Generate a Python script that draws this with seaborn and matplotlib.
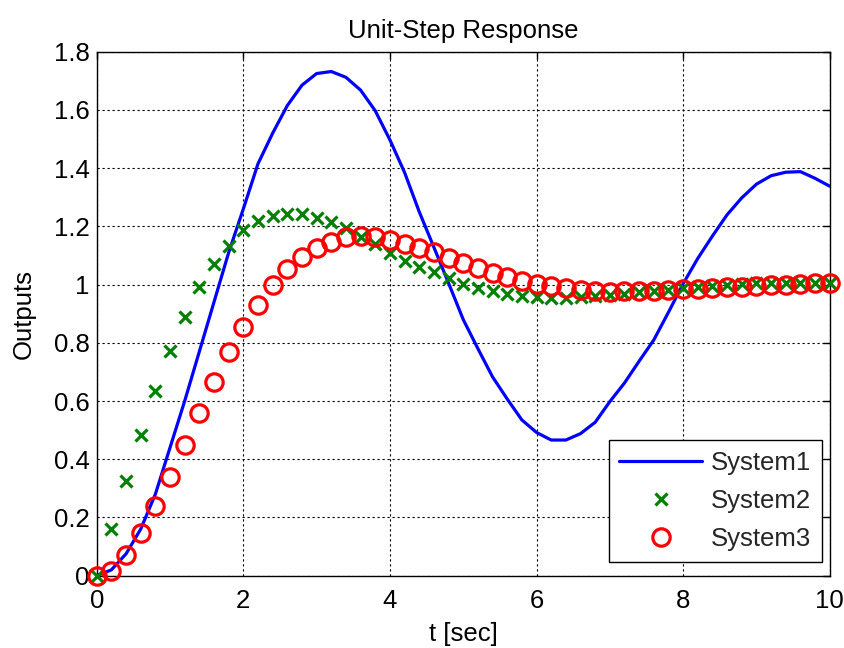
import matplotlib
matplotlib.use("Agg")
import matplotlib.pyplot as plt
import seaborn as sns
import pandas as pd
from matplotlib.lines import Line2D

# ---- data ----
t = [0.0, 0.2, 0.4, 0.6, 0.8, 1.0, 1.2, 1.4, 1.6, 1.8,
     2.0, 2.2, 2.4, 2.6, 2.8, 3.0, 3.2, 3.4, 3.6, 3.8,
     4.0, 4.2, 4.4, 4.6, 4.8, 5.0, 5.2, 5.4, 5.6, 5.8,
     6.0, 6.2, 6.4, 6.6, 6.8, 7.0, 7.2, 7.4, 7.6, 7.8,
     8.0, 8.2, 8.4, 8.6, 8.8, 9.0, 9.2, 9.4, 9.6, 9.8, 10.0]

system1 = [0.0, 0.02, 0.075, 0.16, 0.28, 0.44, 0.60, 0.77, 0.94, 1.11,
           1.26, 1.415, 1.52, 1.615, 1.685, 1.725, 1.732, 1.712, 1.668, 1.597,
           1.497, 1.385, 1.25, 1.128, 1.005, 0.88, 0.78, 0.683, 0.607, 0.535,
           0.492, 0.466, 0.466, 0.488, 0.527, 0.598, 0.662, 0.737, 0.81, 0.905,
           1.003, 1.09, 1.167, 1.24, 1.298, 1.345, 1.374, 1.386, 1.388, 1.365, 1.338]

system2 = [0.0, 0.16, 0.325, 0.482, 0.634, 0.772, 0.887, 0.99, 1.07, 1.133,
           1.188, 1.217, 1.236, 1.244, 1.243, 1.23, 1.214, 1.195, 1.165, 1.14,
           1.108, 1.082, 1.062, 1.042, 1.022, 1.002, 0.988, 0.978, 0.967, 0.962,
           0.957, 0.954, 0.954, 0.957, 0.961, 0.965, 0.969, 0.973, 0.977, 0.982,
           0.988, 0.992, 0.996, 0.999, 1.002, 1.004, 1.005, 1.006, 1.006, 1.005, 1.005]

system3 = [0.0, 0.017, 0.072, 0.146, 0.238, 0.34, 0.449, 0.56, 0.665, 0.767,
           0.855, 0.929, 0.997, 1.052, 1.094, 1.126, 1.148, 1.162, 1.167, 1.164,
           1.153, 1.138, 1.127, 1.111, 1.09, 1.073, 1.056, 1.041, 1.025, 1.014,
           1.003, 0.994, 0.987, 0.981, 0.977, 0.976, 0.977, 0.977, 0.978, 0.98,
           0.985, 0.985, 0.987, 0.991, 0.993, 0.996, 0.997, 0.998, 1.002, 1.004, 1.004]

series_names = ["System1", "System2", "System3"]
x_ticks = [0, 2, 4, 6, 8, 10]
x_tick_labels = ["0", "2", "4", "6", "8", "10"]
y_ticks = [0, 0.2, 0.4, 0.6, 0.8, 1.0, 1.2, 1.4, 1.6, 1.8]
y_tick_labels = ["0", "0.2", "0.4", "0.6", "0.8", "1", "1.2", "1.4", "1.6", "1.8"]

title_text = "Unit-Step Response"
x_label = "t [sec]"
y_label = "Outputs"

# ---- style ----
sns.set_theme(style="white")
plt.rcParams["font.family"] = ["Liberation Sans", "DejaVu Sans"]
FS = 18.5

df = pd.DataFrame({"t": t, "System1": system1, "System2": system2, "System3": system3})

fig, ax = plt.subplots(figsize=(8.44, 6.48), dpi=100)
fig.subplots_adjust(left=0.1146, right=0.9831, bottom=0.1116, top=0.9202)

sns.lineplot(data=df, x="t", y="System1", ax=ax, color="#0000FF", linewidth=2.3,
             estimator=None, sort=False, zorder=3)
sns.lineplot(data=df, x="t", y="System2", ax=ax, color="#008000", linestyle="",
             marker="x", markersize=8.5, markeredgewidth=2.3,
             markeredgecolor="#008000", estimator=None, sort=False,
             zorder=4, clip_on=False)
sns.lineplot(data=df, x="t", y="System3", ax=ax, color="#FF0000", linestyle="",
             marker="o", markersize=12.5, markeredgewidth=2.3,
             markeredgecolor="#FF0000", markerfacecolor="none",
             estimator=None, sort=False, zorder=5, clip_on=False)

ax.set_xlim(0, 10)
ax.set_ylim(0, 1.8)
ax.set_xticks(x_ticks)
ax.set_xticklabels(x_tick_labels)
ax.set_yticks(y_ticks)
ax.set_yticklabels(y_tick_labels)

ax.tick_params(axis="both", direction="in", top=True, right=True, length=5,
               width=1.0, color="black", labelcolor="black", labelsize=FS)
ax.tick_params(axis="x", pad=9.5)
ax.tick_params(axis="y", pad=5)

ax.set_axisbelow(True)
ax.grid(True, color="black", linestyle=(0, (2, 2.5)), linewidth=0.8)

for s in ax.spines.values():
    s.set_visible(True)
    s.set_color("black")
    s.set_linewidth(1.0)

ax.set_title(title_text, fontsize=FS, color="black", pad=10)
ax.set_xlabel(x_label, fontsize=FS, color="black", labelpad=6.5)
ax.set_ylabel(y_label, fontsize=FS, color="black", labelpad=13)

handles = [
    Line2D([], [], color="#0000FF", linewidth=2.3),
    Line2D([], [], color="#008000", linestyle="", marker="x", markersize=8.5,
           markeredgewidth=2.3),
    Line2D([], [], color="#FF0000", linestyle="", marker="o", markersize=12.5,
           markeredgewidth=2.3, markerfacecolor="none"),
]
leg = ax.legend(handles, series_names, loc="lower right",
                bbox_to_anchor=(0.9891, 0.0267), borderaxespad=0.0,
                fontsize=FS, frameon=True, fancybox=False, shadow=False,
                framealpha=1, edgecolor="black", handlelength=3.2,
                handletextpad=0.35, borderpad=0.42, labelspacing=0.55,
                numpoints=1)
leg.get_frame().set_linewidth(1.0)
leg.set_zorder(10)

fig.savefig("out.png", dpi=100, facecolor="white")
